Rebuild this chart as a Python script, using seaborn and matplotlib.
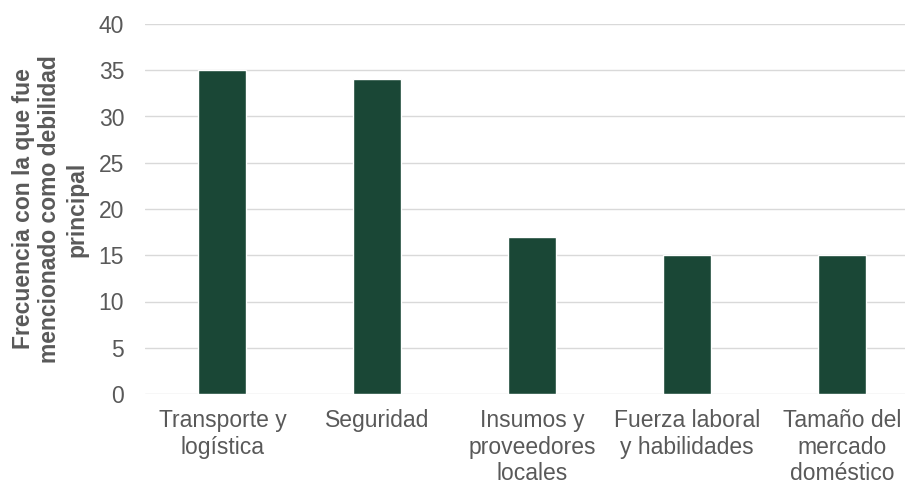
import matplotlib
matplotlib.use("Agg")
import matplotlib.pyplot as plt
import seaborn as sns
import pandas as pd

categories = ["Transporte y\nlogística", "Seguridad", "Insumos y\nproveedores\nlocales",
              "Fuerza laboral\ny habilidades", "Tamaño del\nmercado\ndoméstico"]
values = [35, 34, 17, 15, 15]
y_ticks = [0, 5, 10, 15, 20, 25, 30, 35, 40]
y_label = "Frecuencia con la que fue\nmencionado como debilidad\nprincipal"

sns.set_theme(style="white")
plt.rcParams['font.family'] = ['Liberation Sans', 'DejaVu Sans']

df = pd.DataFrame({"cat": categories, "val": values})

fig = plt.figure(figsize=(9.05, 4.86), dpi=100)
ax = fig.add_axes([145/905, (486-394)/486, 1 - 145/905, (394-24)/486])

ax.set_axisbelow(True)
ax.yaxis.grid(True, color="#d9d9d9", linewidth=1.0)
sns.barplot(data=df, x="cat", y="val", color="#1a4736", saturation=1, width=0.31, ax=ax)

ax.set_ylim(0, 40)
ax.set_yticks(y_ticks)
ax.set_xlim(-0.5, (905-222)/155)
for s in ax.spines.values():
    s.set_visible(False)
ax.tick_params(axis="both", length=0, labelsize=16.5, colors="#595959")
ax.tick_params(axis="x", pad=11)
ax.tick_params(axis="y", pad=15)
ax.set_xlabel("")
ax.set_ylabel("")
fig.text(50/905, 1 - 209/486, y_label, rotation=90, ha="center", va="center",
         multialignment="center", fontsize=16.5, fontweight="bold", color="#595959")

fig.savefig("out.png", dpi=100)
